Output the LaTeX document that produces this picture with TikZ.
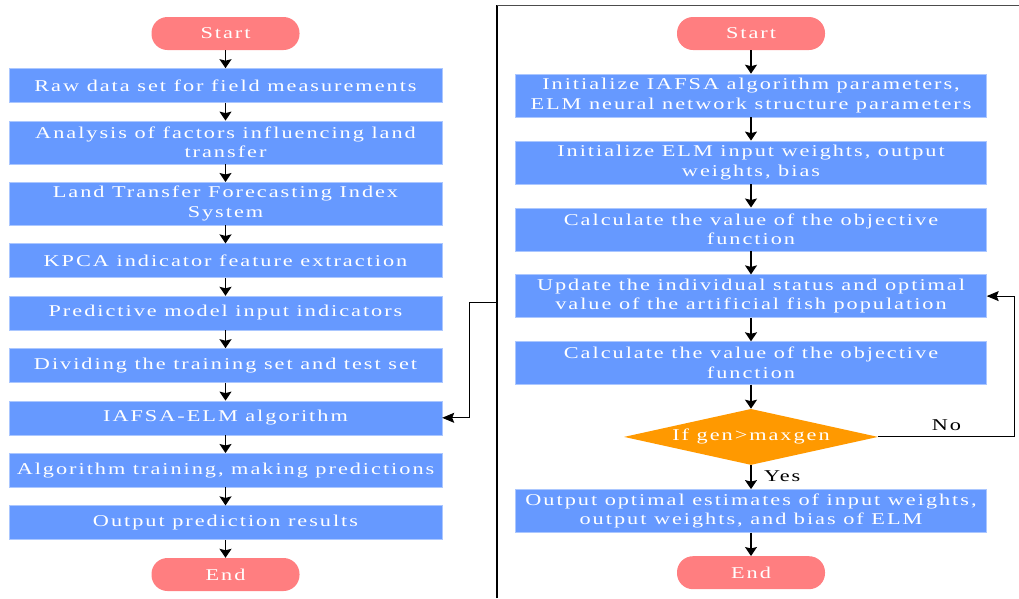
\documentclass[tikz,border=0pt]{standalone}
\usepackage{xcolor}
\usepackage{fontspec}
\setmainfont{Liberation Serif}[FakeStretch=1.35, LetterSpace=12]
\usepackage{tikz}
\usetikzlibrary{arrows.meta, positioning, calc, shapes.geometric}

\definecolor{boxblue}{RGB}{102,153,255}
\definecolor{termred}{RGB}{255,126,128}
\definecolor{condorange}{RGB}{255,153,0}

\begin{document}
\begin{tikzpicture}[
      x=1pt, y=1pt,
      font=\fontsize{16.5}{19.5}\selectfont,
      term/.style={rectangle, rounded corners=16pt, fill=termred, text=white,
        minimum width=148pt, minimum height=33pt, inner sep=0pt},
      stepbox/.style={rectangle, fill=boxblue, draw=boxblue!55!white, thin, text=white,
        align=center, inner sep=0pt, minimum height=34pt},
      lbox/.style={stepbox, minimum width=433pt},
      lbox2/.style={lbox, minimum height=43pt},
      rbox/.style={stepbox, minimum width=471pt, minimum height=43pt},
      cond/.style={diamond, fill=condorange, text=white, shape aspect=4.5,
        minimum width=254pt, minimum height=56pt, inner sep=0pt},
      link/.style={-{Stealth[length=9pt,width=12pt,inset=1.5pt]}, line width=1.4pt},
      back/.style={-{Stealth[length=12pt,width=10pt,inset=2pt]}, line width=0.9pt}
    ]
      \useasboundingbox (0,0) rectangle (1019,-598);
      \node[term] (lstart) at (225.5,-33.5) {Start};
      \node[lbox, below=18pt of lstart] (raw) {Raw data set for field measurements};
      \node[lbox2, below=18pt of raw] (fac) {Analysis of factors influencing land\\transfer};
      \node[lbox2, below=18pt of fac] (idx) {Land Transfer Forecasting Index\\System};
      \node[lbox, below=18pt of idx] (kpca) {KPCA indicator feature extraction};
      \node[lbox, below=18pt of kpca] (inp) {Predictive model input indicators};
      \node[lbox, below=18pt of inp] (div) {Dividing the training set and test set};
      \node[lbox, below=18pt of div] (elm) {IAFSA-ELM algorithm};
      \node[lbox, below=18pt of elm] (train) {Algorithm training, making predictions};
      \node[lbox, below=18pt of train] (outp) {Output prediction results};
      \node[term, below=18pt of outp] (lend) {End};
      \foreach \a/\b in {lstart/raw, raw/fac, fac/idx, idx/kpca, kpca/inp, inp/div,
          div/elm, elm/train, train/outp, outp/lend}
        \draw[link] (\a) -- (\b);

      \node[term] (rstart) at (751,-33.5) {Start};
      \node[rbox, below=23.5pt of rstart] (init) {Initialize IAFSA algorithm parameters,\\ELM neural network structure parameters};
      \node[rbox, below=23.5pt of init] (wts) {Initialize ELM input weights, output\\weights, bias};
      \node[rbox, below=23.5pt of wts] (obj) {Calculate the value of the objective\\function};
      \node[rbox, below=23.5pt of obj] (upd) {Update the individual status and optimal\\value of the artificial fish population};
      \node[rbox, below=23.5pt of upd] (obj2) {Calculate the value of the objective\\function};
      \node[cond, below=24pt of obj2] (gen) {If gen>maxgen};
      \node[rbox, below=24pt of gen] (est) {Output optimal estimates of input weights,\\output weights, and bias of ELM};
      \node[term, below=23.5pt of est] (rend) {End};
      \foreach \a/\b in {rstart/init, init/wts, wts/obj, obj/upd, upd/obj2, obj2/gen, est/rend}
        \draw[link] (\a) -- (\b);
      \draw[link] (gen) -- node[right=9pt, pos=0.45] {Yes} (est);
      \coordinate (nocorner) at ($(gen.east -| upd.east)+(28,0)$);
      \draw[back] (gen.east) -- node[above=2pt, pos=0.5] {No} (nocorner) |- (upd.east);

      \draw[line width=1.6pt] (497,-598) -- (497,-5);
      \draw[line width=1pt, black!70] (497,-5) -- (1019,-5);
      \coordinate (tap) at (497,-302);
      \draw[back] (tap) -- (469,-302) |- (elm.east);
    \end{tikzpicture}
\end{document}
